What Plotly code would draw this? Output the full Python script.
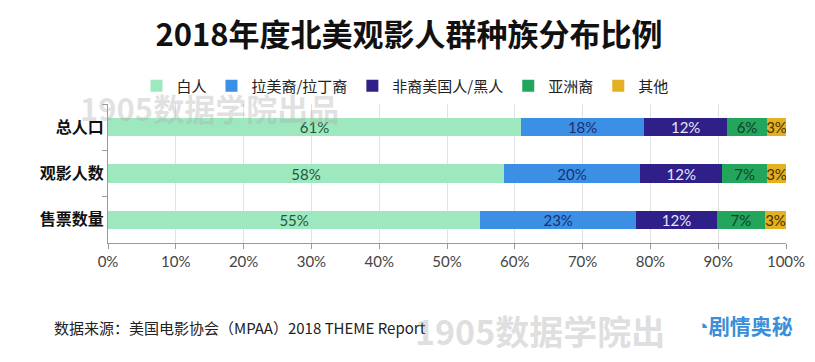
import plotly.graph_objects as go

categories = ["总人口", "观影人数", "售票数量"]
series_names = ["白人", "拉美裔/拉丁裔", "非裔美国人/黑人", "亚洲裔", "其他"]
white = [60.9, 58.4, 54.9]
latino = [18.2, 20.1, 23.0]
black = [12.2, 12.1, 11.9]
asian = [5.9, 6.6, 7.1]
other = [2.8, 2.8, 3.1]
x_ticks = [0, 10, 20, 30, 40, 50, 60, 70, 80, 90, 100]

colors = ["#9ee8bf", "#3b8fe4", "#2f1f88", "#23a55b", "#e2b021"]
text_colors = ["#1d5a3a", "#1c2f6e", "#e6e6f5", "#10402a", "#4a3000"]
values = [white, latino, black, asian, other]

fig = go.Figure()
for name, vals, c, tc in zip(series_names, values, colors, text_colors):
    fig.add_trace(go.Bar(
        y=categories, x=vals, name=name, orientation="h",
        marker=dict(color=c, line=dict(width=0)),
        width=0.4,
        text=[f"{round(v)}%" for v in vals],
        textposition="inside", insidetextanchor="middle",
        textfont=dict(family="Lato", size=15, color=tc),
        hoverinfo="skip",
    ))

fig.update_layout(
    barmode="stack",
    width=815, height=362,
    margin=dict(l=100, r=37, t=96, b=127, autoexpand=False),
    paper_bgcolor="white", plot_bgcolor="white",
    uniformtext=dict(minsize=15, mode="show"),
    title=dict(text="<b>2018年度北美观影人群种族分布比例</b>", x=0.492, xanchor="center",
               y=0.925, yanchor="middle",
               font=dict(family="Noto Sans CJK SC", size=31, color="#111")),
    legend=dict(orientation="h", x=0.438, xanchor="center", y=1.13, yanchor="middle",
                font=dict(family="Noto Sans CJK SC", size=15, color="#222"),
                traceorder="normal",
                bgcolor="rgba(0,0,0,0)"),
    showlegend=True,
    xaxis=dict(range=[0, 100], tickvals=x_ticks, ticktext=[f"{t}%" for t in x_ticks],
               showgrid=True, gridcolor="#e2e2e2", gridwidth=1,
               showline=True, linecolor="#9a9a9a", linewidth=1,
               ticks="outside", ticklen=5, tickcolor="#9a9a9a",
               tickfont=dict(family="Lato", size=15, color="#444"),
               zeroline=False, fixedrange=True, automargin=False),
    yaxis=dict(categoryorder="array", categoryarray=categories, autorange="reversed",
               showline=True, linecolor="#9a9a9a", linewidth=1,
               ticks="outside", ticklen=5, tickcolor="#9a9a9a", tickson="boundaries",
               tickfont=dict(family="Noto Sans CJK SC", size=16, color="#111"),
               tickprefix="<b>", ticksuffix="</b>",
               showgrid=False, fixedrange=True, automargin=False),
)

# Source footer
fig.add_annotation(text="数据来源：美国电影协会（MPAA）2018 THEME Report", xref="paper", yref="paper",
                   x=-0.083, y=-0.61, xanchor="left", yanchor="middle", showarrow=False,
                   font=dict(family="Noto Sans CJK SC", size=15, color="#222"))
# Watermarks
fig.add_annotation(text="<b>1905数据学院出品</b>", xref="paper", yref="paper",
                   x=-0.044, y=0.975, xanchor="left", yanchor="middle", showarrow=False,
                   font=dict(family="Noto Sans CJK SC", size=31, color="rgba(170,170,170,0.35)"))
fig.add_annotation(text="<b>1905数据学院出</b>", xref="paper", yref="paper",
                   x=0.45, y=-0.63, xanchor="left", yanchor="middle", showarrow=False,
                   font=dict(family="Noto Sans CJK SC", size=34, color="rgba(170,170,170,0.4)"))
fig.add_annotation(text="<b>◔剧情奥秘</b>", xref="paper", yref="paper",
                   x=1.013, y=-0.59, xanchor="right", yanchor="middle", showarrow=False,
                   font=dict(family="Noto Sans CJK SC", size=21, color="#3a8fd8"))

fig.write_html("out.html")
